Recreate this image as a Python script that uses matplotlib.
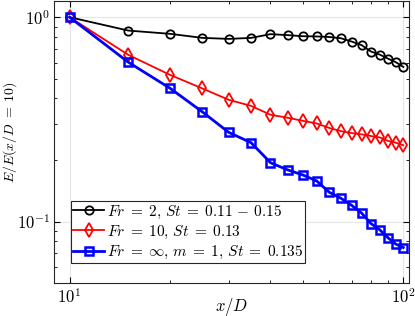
import numpy as np
import matplotlib
matplotlib.use('Agg')
import matplotlib.pyplot as plt

plt.rcParams['font.family'] = 'serif'
plt.rcParams['font.serif'] = ['cmr10']
plt.rcParams['mathtext.fontset'] = 'cm'
plt.rcParams['axes.formatter.use_mathtext'] = True
plt.rcParams['font.size'] = 12

# streamwise positions x/D
x_d = [10, 15, 20, 25, 30, 35, 40, 45, 50, 55, 60, 65, 70, 75, 80, 85, 90, 95, 100]

# normalised energy E/E(x/D=10)
e_fr2 = [1.0, 0.86, 0.829, 0.792, 0.783, 0.792, 0.826, 0.817, 0.807, 0.805,
         0.80, 0.789, 0.760, 0.730, 0.679, 0.656, 0.627, 0.602, 0.571]
e_fr10 = [1.0, 0.654, 0.522, 0.448, 0.394, 0.368, 0.333, 0.322, 0.311, 0.302,
          0.287, 0.277, 0.271, 0.267, 0.262, 0.258, 0.248, 0.243, 0.236]
e_frinf = [1.0, 0.602, 0.449, 0.344, 0.273, 0.243, 0.194, 0.179, 0.169, 0.158,
           0.139, 0.130, 0.120, 0.110, 0.0977, 0.0911, 0.0832, 0.0775, 0.0746]

labels = [r'$Fr\;=\;2,\,St\;=\;0.11\,-\,0.15$',
          r'$Fr\;=\;10,\,St\;=\;0.13$',
          r'$Fr\;=\;\infty,\,m\;=\;1,\,St\;=\;0.135$']

fig = plt.figure(figsize=(4.15, 3.16), dpi=100)
ax = fig.add_axes([0.1308, 0.1044, 0.8547, 0.8924])

ax.plot(x_d, e_fr2, '-o', color='black', lw=1.3, ms=6, mfc='none', mew=1.3, label=labels[0])
ax.plot(x_d, e_fr10, '-d', color='red', lw=1.3, ms=7, mfc='none', mew=1.3, label=labels[1])
ax.plot(x_d, e_frinf, '-s', color='blue', lw=2, ms=5.5, mfc='none', mew=1.8, label=labels[2])

ax.set_xscale('log')
ax.set_yscale('log')
ax.set_xlim(9, 104)
ax.set_ylim(0.05, 1.2)

ax.grid(True, which='major', color='#e6e6e6', lw=0.8)
ax.set_axisbelow(True)
ax.tick_params(which='both', direction='in', top=True, right=True, labelsize=12)
ax.tick_params(which='major', length=4, pad=3)
ax.tick_params(which='minor', length=2.5)
for s in ax.spines.values():
    s.set_color('#262626')
    s.set_linewidth(0.8)

ax.set_xlabel(r'$x/D$', fontsize=12)
ax.set_ylabel(r'$E/E(x/D\;=\;10)$', fontsize=10)
ax.xaxis.set_label_coords(0.5, -0.045)
ax.yaxis.set_label_coords(-0.10, 0.535)

leg = ax.legend(loc='lower left', bbox_to_anchor=(0.047, 0.07), fontsize=11,
                handlelength=2.0, handletextpad=0.2, borderpad=0.15,
                labelspacing=0.2, borderaxespad=0, fancybox=False,
                framealpha=1, edgecolor='#262626')
leg.get_frame().set_linewidth(0.8)

fig.savefig('out.png', dpi=100)
